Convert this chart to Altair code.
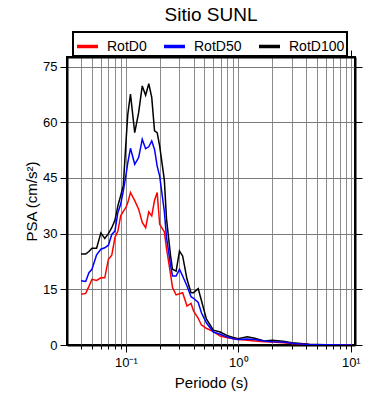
import altair as alt
import pandas as pd

periods = [0.040, 0.044, 0.047, 0.050, 0.055, 0.060, 0.065, 0.070, 0.075, 0.080,
           0.085, 0.090, 0.095, 0.100, 0.104, 0.110, 0.120, 0.130, 0.140, 0.150,
           0.160, 0.170, 0.180, 0.190, 0.200, 0.220, 0.230, 0.250, 0.260, 0.280,
           0.300, 0.320, 0.350, 0.380, 0.400, 0.440, 0.470, 0.520, 0.600, 0.690,
           0.790, 0.900, 1.0, 1.2, 1.4, 1.7, 2.0, 2.5, 3.0, 4.3, 6.0, 10.0]

rotd100 = [24.5, 24.5, 25.2, 26.1, 26.1, 30.2, 28.7, 30.0, 31.6, 33.6,
           37.5, 40.2, 43.0, 54.0, 62.0, 67.6, 57.2, 62.6, 69.8, 67.3,
           70.4, 66.7, 57.7, 57.2, 53.6, 44.5, 34.0, 24.0, 20.4, 19.9,
           25.3, 24.0, 17.7, 14.1, 14.1, 15.2, 12.0, 7.0, 4.0, 3.5,
           2.6, 2.0, 1.7, 2.2, 1.8, 1.1, 1.3, 1.0, 0.6, 0.2, 0.1, 0.0]

rotd50 = [17.3, 17.1, 19.5, 20.4, 24.3, 25.8, 26.2, 26.9, 29.8, 30.7,
          35.7, 37.9, 41.5, 45.5, 49.0, 53.0, 48.7, 50.5, 55.4, 52.9,
          53.4, 55.0, 52.7, 48.2, 45.5, 36.0, 29.0, 21.5, 18.6, 18.6,
          20.4, 18.6, 15.9, 13.0, 12.6, 11.5, 8.7, 6.0, 3.5, 2.9,
          2.2, 1.7, 1.5, 1.6, 1.5, 1.1, 0.9, 0.8, 0.5, 0.1, 0.05, 0.0]

rotd0 = [13.7, 13.9, 15.8, 17.7, 17.4, 18.1, 18.1, 23.1, 24.2, 28.9,
         30.7, 34.8, 36.0, 37.0, 38.3, 41.1, 38.9, 36.6, 33.0, 31.6,
         35.9, 34.8, 39.0, 41.1, 32.5, 30.5, 26.0, 19.0, 15.5, 13.5,
         13.8, 14.1, 10.5, 11.2, 9.2, 7.2, 5.4, 4.5, 3.6, 2.4,
         2.0, 1.7, 1.5, 1.3, 1.1, 0.9, 0.8, 0.6, 0.4, 0.1, 0.05, 0.0]

series_names = ["RotD0", "RotD50", "RotD100"]
series_colors = ["#ff0000", "#0000ff", "#000000"]

x_tick_values = [0.04, 0.05, 0.06, 0.07, 0.08, 0.09,
                 0.1, 0.2, 0.3, 0.4, 0.5, 0.6, 0.7, 0.8, 0.9,
                 1, 2, 3, 4, 5, 6, 7, 8, 9, 10]
y_tick_values = [0, 15, 30, 45, 60, 75]

rows = []
for name, vals in [("RotD100", rotd100), ("RotD0", rotd0), ("RotD50", rotd50)]:
    for i, (p, v) in enumerate(zip(periods, vals)):
        rows.append({"Periodo": p, "PSA": v, "Serie": name, "i": i})
df = pd.DataFrame(rows)

FONT = "Liberation Sans"
major_test = "abs(log(datum.value)/log(10) - round(log(datum.value)/log(10))) < 0.001"
label_expr = ("datum.value == 0.1 ? '10⁻¹' : datum.value == 1 ? '10⁰' : "
              "datum.value == 10 ? '10¹' : ''")

X_DOMAIN = [0.03, 10.9]
Y_DOMAIN = [0, 77.6]

tick_size_cond = {"condition": {"test": major_test, "value": 7}, "value": 4}
dom = dict(domain=True, domainColor="black", domainWidth=2)

x_bottom = alt.Axis(values=x_tick_values, labelExpr=label_expr, title="Periodo (s)",
                    grid=True, gridColor="#8c8c8c", gridWidth=1, gridOpacity=1,
                    tickColor="black", tickWidth=1,
                    tickSize=tick_size_cond, labelFont=FONT, labelFontSize=13,
                    labelColor="black", labelPadding=4, titleFont=FONT,
                    titleFontSize=15, titleFontWeight="normal", titleColor="black",
                    titlePadding=6, labelFlush=False, labelOverlap=False, **dom)
x_top = alt.Axis(values=x_tick_values, labels=False, title=None, orient="top",
                 grid=False, tickColor="black", tickWidth=1,
                 tickSize=tick_size_cond, **dom)
y_left = alt.Axis(values=y_tick_values, title="PSA (cm/s²)", grid=True,
                  gridColor="#7a7a7a", gridWidth=1, gridOpacity=1,
                  tickColor="black", tickWidth=1, tickSize=7, labelFont=FONT,
                  labelFontSize=13, labelColor="black", labelPadding=3,
                  titleFont=FONT, titleFontSize=15, titleFontWeight="normal",
                  titleColor="black", titlePadding=3, **dom)
y_right = alt.Axis(values=y_tick_values, labels=False, title=None, orient="right",
                   grid=False, tickColor="black", tickWidth=1,
                   tickSize=7, **dom)

lines = alt.Chart(df).mark_line(strokeWidth=1.5, clip=True).encode(
    x=alt.X("Periodo:Q", scale=alt.Scale(type="log", domain=X_DOMAIN, nice=False),
            axis=x_bottom),
    y=alt.Y("PSA:Q", scale=alt.Scale(domain=Y_DOMAIN, nice=False, zero=False),
            axis=y_left),
    color=alt.Color("Serie:N",
                    scale=alt.Scale(domain=series_names, range=series_colors),
                    legend=alt.Legend(title=None, orient="none", legendX=6,
                                      legendY=-25, direction="horizontal",
                                      symbolType="stroke", symbolStrokeWidth=3.5,
                                      symbolSize=441, labelFont=FONT,
                                      labelFontSize=14, labelColor="black",
                                      labelOffset=7, columnPadding=10,
                                      gridAlign="none",
                                      strokeColor="black",
                                      fillColor="white", padding=2,
                                      offset=0)),
    detail="Serie:N",
    order="i:Q",
)

frame = alt.Chart(df).mark_point(opacity=0).encode(
    x=alt.X("Periodo:Q", scale=alt.Scale(type="log", domain=X_DOMAIN, nice=False),
            axis=x_top),
    y=alt.Y("PSA:Q", scale=alt.Scale(domain=Y_DOMAIN, nice=False, zero=False),
            axis=y_right),
)

chart = alt.layer(lines, frame).resolve_scale(
    x="independent", y="independent"
).resolve_axis(x="independent", y="independent").properties(
    width=288, height=288,
    background="white",
    title=alt.TitleParams("Sitio SUNL", font=FONT, fontSize=19, fontWeight="normal",
                          color="black", anchor="middle", offset=6),
    autosize=alt.AutoSizeParams(type="none"),
    padding={"left": 59, "top": 49, "right": 27, "bottom": 46},
).configure_view(stroke="black", strokeWidth=2).configure_legend(strokeWidth=2)

chart.save("out.html", embed_options={"renderer": "svg", "actions": False})
